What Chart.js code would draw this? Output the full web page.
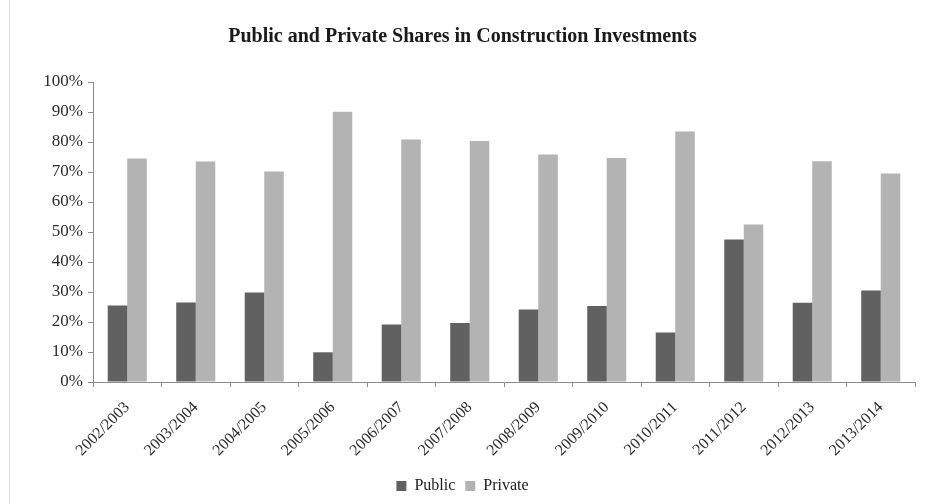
<!DOCTYPE html>
<html>
<head>
<meta charset="utf-8">
<script src="https://cdn.jsdelivr.net/npm/chart.js@4.4.1/dist/chart.umd.min.js"></script>
<style>
  html, body { margin: 0; padding: 0; background: #fff; }
  #wrap { position: relative; width: 916px; height: 504px; margin-left: 9px; border-left: 1px solid #d9d9d9; }
</style>
</head>
<body>
<div id="wrap"><canvas id="sharesChart"></canvas></div>
<script>
// --- Dati ---
const years = ['2002/2003', '2003/2004', '2004/2005', '2005/2006', '2006/2007', '2007/2008',
  '2008/2009', '2009/2010', '2010/2011', '2011/2012', '2012/2013', '2013/2014'];
const publicShare = [25.5, 26.5, 29.8, 9.9, 19.2, 19.7, 24.2, 25.3, 16.5, 47.5, 26.4, 30.5];
const privateShare = [74.5, 73.5, 70.2, 90.1, 80.8, 80.3, 75.8, 74.7, 83.5, 52.5, 73.6, 69.5];
const yTicks = [0, 10, 20, 30, 40, 50, 60, 70, 80, 90, 100];

const serif = "'Liberation Serif', 'Times New Roman', serif";
const axisGrey = '#8c8c8c';
const ctx = document.getElementById('sharesChart').getContext('2d');

const sharesChart = new Chart(ctx, {
  type: 'bar',
  data: {
    labels: years,
    datasets: [{
      label: 'Public',
      data: publicShare,
      backgroundColor: '#616161',
      barPercentage: 1,
      categoryPercentage: 0.57
    }, {
      label: 'Private',
      data: privateShare,
      backgroundColor: '#b3b3b3',
      barPercentage: 1,
      categoryPercentage: 0.57
    }]
  },
  options: {
    responsive: true,
    maintainAspectRatio: false,
    animation: false,
    layout: { padding: { left: 0, right: 11, top: 0, bottom: 0 } },
    scales: {
      x: {
        // altezza fissa per le etichette ruotate
        afterFit: axis => { axis.height = 86; },
        grid: {
          offset: true,
          drawOnChartArea: false,
          drawTicks: true,
          tickLength: 5,
          color: axisGrey
        },
        border: { color: axisGrey },
        ticks: {
          color: '#2b2b2b',
          font: { family: serif, size: 16 },
          maxRotation: 45,
          minRotation: 45,
          padding: 11
        }
      },
      y: {
        min: 0,
        max: 100,
        afterBuildTicks: axis => { axis.ticks = yTicks.map(v => ({ value: v })); },
        afterFit: axis => { axis.width = 83; },
        grid: {
          drawOnChartArea: false,
          drawTicks: true,
          tickLength: 5,
          color: axisGrey
        },
        border: { color: axisGrey },
        ticks: {
          color: '#2b2b2b',
          font: { family: serif, size: 17 },
          padding: 5,
          callback: v => v + '%'
        }
      }
    },
    plugins: {
      title: {
        display: true,
        text: 'Public and Private Shares in Construction Investments',
        color: '#1a1a1a',
        font: { family: serif, size: 20, weight: 'bold' },
        padding: { top: 25, bottom: 33 }
      },
      legend: {
        position: 'bottom',
        labels: {
          color: '#1a1a1a',
          font: { family: serif, size: 16 },
          boxWidth: 10,
          boxHeight: 10,
          padding: 10
        }
      },
      tooltip: { enabled: false }
    }
  }
});
</script>
</body>
</html>
